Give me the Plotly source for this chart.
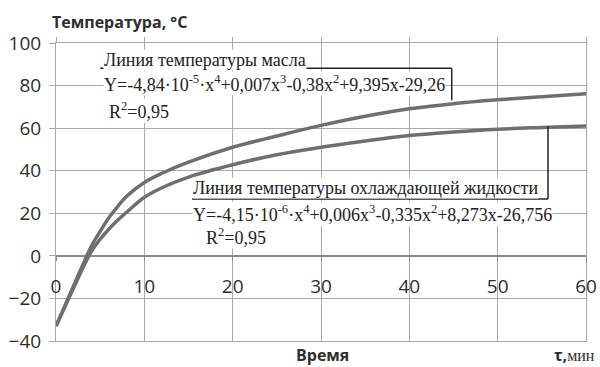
import plotly.graph_objects as go

# Time, min
time_min = [0, 1, 2, 3, 4, 5, 6, 7, 8, 10, 12, 15, 20, 25, 30, 35, 40, 45, 50, 55, 60]
# Oil temperature, °C
oil_temp = [-33, -23.5, -14, -4.5, 4.5, 11.5, 18, 23.3, 28, 34.5, 38.8, 44, 51, 56.3, 61.3, 65.6, 69.1, 71.5, 73.3, 74.8, 76.2]
# Coolant temperature, °C
coolant_temp = [-33, -24, -15, -6, 2, 7.8, 12.6, 16.8, 20.5, 27.5, 32, 37, 42.8, 47.5, 51, 54, 56.5, 58.2, 59.5, 60.3, 61]

x_ticks = [0, 10, 20, 30, 40, 50, 60]
y_ticks = [-40, -20, 0, 20, 40, 60, 80, 100]

LINE = "#6f6f6f"
GRID = "#a9a9a9"
SERIF = "Liberation Serif"
SANS = "Open Sans"

fig = go.Figure()
fig.add_trace(go.Scatter(x=time_min, y=oil_temp, mode="lines", line=dict(color=LINE, width=3.5, shape="spline"),
                         name="oil", showlegend=False))
fig.add_trace(go.Scatter(x=time_min, y=coolant_temp, mode="lines", line=dict(color=LINE, width=3.5, shape="spline"),
                         name="coolant", showlegend=False))
# invisible trace to activate the label axis
fig.add_trace(go.Scatter(x=[x_ticks[0], x_ticks[-1]], y=[0, 0], mode="lines", line=dict(width=0),
                         xaxis="x2", showlegend=False, hoverinfo="skip"))

fig.update_layout(
    width=600, height=367,
    margin=dict(l=56, r=14, t=43, b=26),
    paper_bgcolor="white", plot_bgcolor="white",
    xaxis=dict(range=[0, 60], tickvals=x_ticks, showticklabels=False, side="top", automargin=False,
               ticks="outside", ticklen=5, tickcolor=GRID,
               showgrid=True, gridcolor=GRID, gridwidth=1.3,
               showline=True, linecolor=GRID, mirror=True, zeroline=False),
    xaxis2=dict(range=[0, 60], tickvals=x_ticks, overlaying="x", anchor="free", position=40/140,
                side="bottom", ticks="outside", ticklen=4, tickcolor="#8a8a8a", automargin=False,
                showgrid=False, showline=False, zeroline=False,
                tickfont=dict(family=SANS, size=19, color="#2e2e2e"), ticklabelstandoff=9),
    yaxis=dict(range=[-40, 100], tickvals=y_ticks, ticks="outside", ticklen=6, tickcolor=GRID,
               automargin=False,
               showgrid=True, gridcolor=GRID, gridwidth=1.3,
               showline=True, linecolor=GRID, mirror=True,
               zeroline=True, zerolinecolor="#8a8a8a", zerolinewidth=1.6,
               tickfont=dict(family=SANS, size=19, color="#2e2e2e"), ticklabelstandoff=4),
)

def add_text(x, y, text, size=18):
    fig.add_annotation(x=x, y=y, xref="x", yref="y", text=text, showarrow=False,
                       xanchor="left", yanchor="middle", bgcolor="white", borderpad=0,
                       font=dict(family=SERIF, size=size, color="#222222"))

# oil label
add_text(5.3, 92.2, "Линия температуры масла")
add_text(5.3, 80.8, "Y=-4,84·10<sup>-5</sup>·x<sup>4</sup>+0,007x<sup>3</sup>-0,38x<sup>2</sup>+9,395x-29,26")
add_text(5.9, 68.4, "R<sup>2</sup>=0,95")
fig.add_shape(type="line", xref="x", yref="y", x0=5.0, x1=44.8, y0=88.1, y1=88.1, line=dict(color="#222222", width=1.5))
fig.add_shape(type="line", xref="x", yref="y", x0=44.8, x1=44.8, y0=88.1, y1=73.1, line=dict(color="#222222", width=1.5))

# coolant label
add_text(15.4, 31.9, "Линия температуры охлаждающей жидкости")
add_text(15.4, 20.0, "Y=-4,15·10<sup>-6</sup>·x<sup>4</sup>+0,006x<sup>3</sup>-0,335x<sup>2</sup>+8,273x-26,756")
add_text(16.9, 8.9, "R<sup>2</sup>=0,95")
fig.add_shape(type="line", xref="x", yref="y", x0=15.4, x1=55.7, y0=26.7, y1=26.7, line=dict(color="#222222", width=1.5))
fig.add_shape(type="line", xref="x", yref="y", x0=55.7, x1=55.7, y0=60.9, y1=26.7, line=dict(color="#222222", width=1.5))

# axis titles
fig.add_annotation(x=-0.011, y=1.069, xref="paper", yref="paper", text="<b>Температура, °C</b>",
                   showarrow=False, xanchor="left", yanchor="middle",
                   font=dict(family=SANS, size=16, color="#2e2e2e"))
fig.add_annotation(x=0.502, y=-0.046, xref="paper", yref="paper", text="<b>Время</b>",
                   showarrow=False, xanchor="center", yanchor="middle",
                   font=dict(family=SANS, size=16, color="#2e2e2e"))
fig.add_annotation(x=1.021, y=-0.046, xref="paper", yref="paper",
                   text="<b>τ,</b><span style='font-family:Liberation Serif'>мин</span>",
                   showarrow=False, xanchor="right", yanchor="middle",
                   font=dict(family=SANS, size=16, color="#2e2e2e"))

fig.write_html("out.html", config={"displayModeBar": False})

# remove the browser's default page margin so the figure sits at the window's corner
with open("out.html", "r", encoding="utf-8") as f:
    html = f.read()
html = html.replace("<head>", "<head><style>html,body{margin:0;padding:0;overflow:hidden;}</style>", 1)
with open("out.html", "w", encoding="utf-8") as f:
    f.write(html)
